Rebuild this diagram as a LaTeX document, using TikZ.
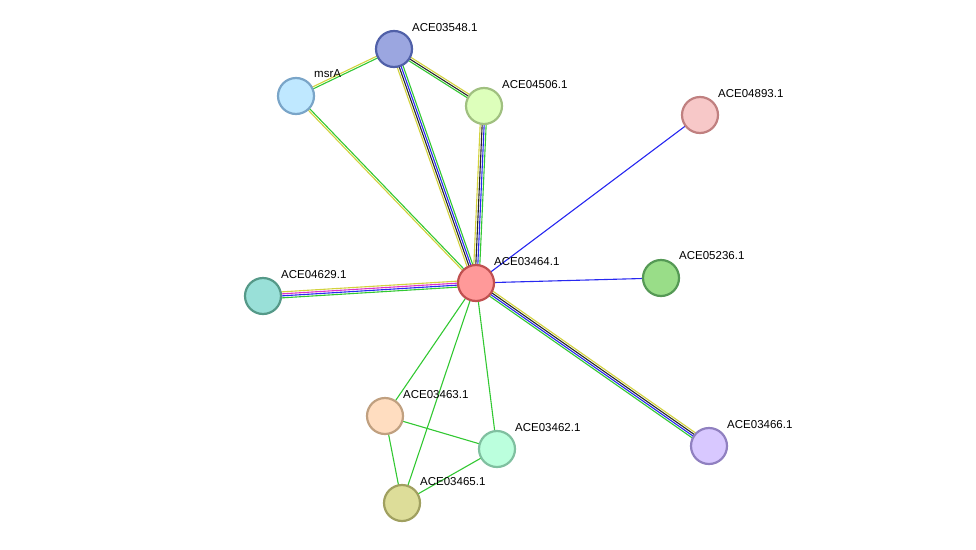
\documentclass[tikz,border=0pt]{standalone}
\usepackage{fontspec}
\setmainfont{Liberation Sans}
\usetikzlibrary{calc}
\definecolor{cNeigh}{RGB}{50,200,50}
\definecolor{cCooc}{RGB}{40,40,240}
\definecolor{cCoex}{RGB}{40,40,40}
\definecolor{cText}{RGB}{210,210,60}
\definecolor{cExp}{RGB}{220,50,200}
\definecolor{fC}{HTML}{FF9999}\definecolor{dC}{HTML}{C05050}
\definecolor{f48}{HTML}{9BA6E0}\definecolor{d48}{HTML}{5060A8}
\definecolor{fmsr}{HTML}{BFE8FF}\definecolor{dmsr}{HTML}{7AA5C8}
\definecolor{f06}{HTML}{DDFFBB}\definecolor{d06}{HTML}{A0C080}
\definecolor{f93}{HTML}{F7C8C8}\definecolor{d93}{HTML}{C08080}
\definecolor{f36}{HTML}{99DD88}\definecolor{d36}{HTML}{559955}
\definecolor{f29}{HTML}{99E0D8}\definecolor{d29}{HTML}{559988}
\definecolor{f63}{HTML}{FFDDC0}\definecolor{d63}{HTML}{C0A080}
\definecolor{f62}{HTML}{BBFFDD}\definecolor{d62}{HTML}{80C0A0}
\definecolor{f65}{HTML}{DDDD99}\definecolor{d65}{HTML}{A0A060}
\definecolor{f66}{HTML}{D8C8FF}\definecolor{d66}{HTML}{9080C0}
\tikzset{
  prot/.style 2 args={circle, minimum size=36pt, inner sep=0pt, line width=2.2pt, fill=#1, draw=#2},
  plabel/.style={anchor=west, font=\fontsize{11.5}{13}\selectfont, inner sep=0pt},
  evid/.style={line width=1.1pt},
}
% multi-evidence edge: \evedge{a}{b}{offset/colour,...}
\newcommand{\evedge}[3]{%
  \foreach \off/\col in {#3}{%
    \draw[evid,\col] ($(#1)!\off pt!90:(#2)$) -- ($(#2)!\off pt!-90:(#1)$);}}
\begin{document}
\begin{tikzpicture}[x=1pt,y=-1pt]
  \useasboundingbox (0,0) rectangle (976,549);
  % coordinates of proteins
  \coordinate (c) at (476,283);
  \coordinate (p48) at (394,49);
  \coordinate (msr) at (296,96);
  \coordinate (p06) at (484,106);
  \coordinate (p93) at (700,115);
  \coordinate (p36) at (661,278);
  \coordinate (p29) at (263,296);
  \coordinate (p63) at (385,416);
  \coordinate (p62) at (497,449);
  \coordinate (p65) at (402,503);
  \coordinate (p66) at (709,446);
  % edges
  \evedge{c}{p48}{-3/cNeigh,-1/cCooc,1/cCoex,3/cText}
  \evedge{c}{p06}{-3/cNeigh,-1/cCooc,1/cCoex,3/cText}
  \evedge{c}{msr}{-1/cNeigh,1/cText}
  \evedge{msr}{p48}{-1/cNeigh,1/cText}
  \evedge{p48}{p06}{-2/cNeigh,0/cCoex,2/cText}
  \evedge{c}{p93}{0/cCooc}
  \evedge{c}{p36}{0/cCooc}
  \evedge{c}{p29}{-3/cText,-1/cExp,1/cCooc,3/cNeigh}
  \evedge{c}{p66}{-3/cNeigh,-1/cCooc,1/cCoex,3/cText}
  \evedge{c}{p63}{0/cNeigh}
  \evedge{c}{p62}{0/cNeigh}
  \evedge{c}{p65}{0/cNeigh}
  \evedge{p63}{p62}{0/cNeigh}
  \evedge{p63}{p65}{0/cNeigh}
  \evedge{p65}{p62}{0/cNeigh}
  % proteins
  \node[prot={fC}{dC}] (nc) at (c) {};
  \node[prot={f48}{d48}] (n48) at (p48) {};
  \node[prot={fmsr}{dmsr}] (nmsr) at (msr) {};
  \node[prot={f06}{d06}] (n06) at (p06) {};
  \node[prot={f93}{d93}] (n93) at (p93) {};
  \node[prot={f36}{d36}] (n36) at (p36) {};
  \node[prot={f29}{d29}] (n29) at (p29) {};
  \node[prot={f63}{d63}] (n63) at (p63) {};
  \node[prot={f62}{d62}] (n62) at (p62) {};
  \node[prot={f65}{d65}] (n65) at (p65) {};
  \node[prot={f66}{d66}] (n66) at (p66) {};
  % labels
  \node[plabel] at ($(c)+(18,-21)$) {ACE03464.1};
  \node[plabel] at ($(p48)+(18,-21)$) {ACE03548.1};
  \node[plabel] at ($(msr)+(18,-22)$) {msrA};
  \node[plabel] at ($(p06)+(18,-21)$) {ACE04506.1};
  \node[plabel] at ($(p93)+(18,-21)$) {ACE04893.1};
  \node[plabel] at ($(p36)+(18,-22)$) {ACE05236.1};
  \node[plabel] at ($(p29)+(18,-21)$) {ACE04629.1};
  \node[plabel] at ($(p63)+(18,-21)$) {ACE03463.1};
  \node[plabel] at ($(p62)+(18,-21)$) {ACE03462.1};
  \node[plabel] at ($(p65)+(18,-21)$) {ACE03465.1};
  \node[plabel] at ($(p66)+(18,-21)$) {ACE03466.1};
\end{tikzpicture}
\end{document}
